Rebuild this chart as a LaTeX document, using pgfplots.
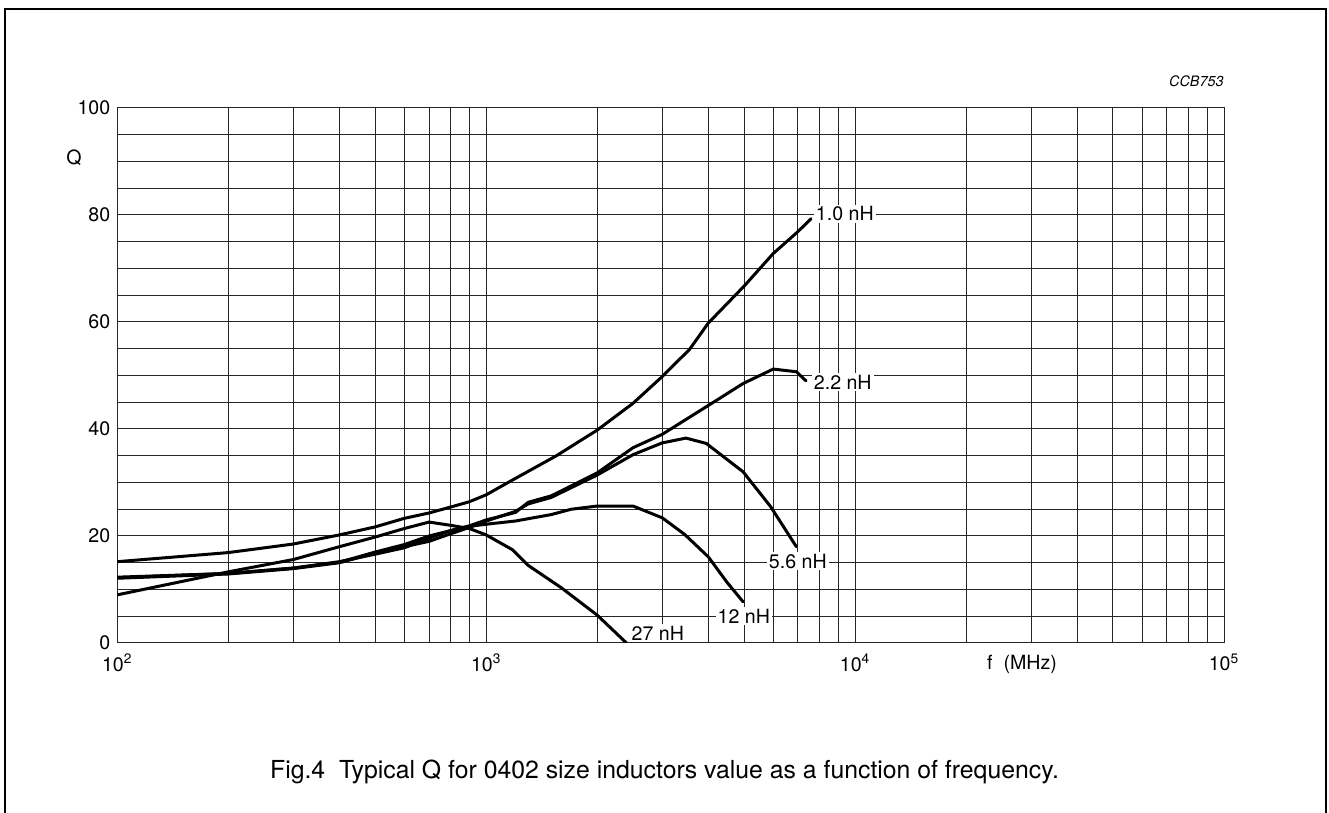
\documentclass[border=0pt]{standalone}
\usepackage{fontspec}
\setmainfont{TeX Gyre Heros}
\usepackage{pgfplots}
\pgfplotsset{compat=1.18}
\begin{document}
\begin{tikzpicture}
\useasboundingbox (0,0) rectangle (664.5pt,406.5pt);
\draw[line width=1pt] (2.5pt,-2pt) -- (2.5pt,402pt) -- (663pt,402pt) -- (663pt,-2pt);
\begin{axis}[
  at={(58.65pt,85pt)}, anchor=south west,
  scale only axis, width=553.35pt, height=267.5pt,
  xmode=log, xmin=100, xmax=100000, ymin=0, ymax=100,
  xtick={100,1000,10000,100000},
  xticklabels={10\textsuperscript{2},10\textsuperscript{3},10\textsuperscript{4},10\textsuperscript{5}},
  ytick={0,20,...,100},
  minor ytick={5,10,...,95},
  grid=both,
  major grid style={black!85, line width=0.5pt},
  minor grid style={black!85, line width=0.5pt},
  axis line style={black!85, line width=0.5pt},
  major tick length=0pt, minor tick length=0pt,
  tick label style={font=\fontsize{9.8}{11}\selectfont},
  xticklabel style={yshift=-2pt},
  /pgf/number format/assume math mode=true,
  xlabel={f\ \ (MHz)},
  xlabel style={at={(axis description cs:0.8175,-0.0393)}, anchor=center, font=\fontsize{9.8}{11}\selectfont},
  ylabel={Q},
  ylabel style={at={(axis description cs:-0.0391,0.908)}, anchor=center, rotate=-90, font=\fontsize{9.8}{11}\selectfont},
  title={CCB753},
  title style={at={(axis description cs:1,1)}, anchor=base east, yshift=4.5pt, inner sep=0pt, font=\fontsize{7.2}{8}\selectfont\itshape},
]
\pgfplotsset{curve/.style={black, line width=1.5pt, line join=round, line cap=round, no markers}}
% 1.0 nH
\addplot[curve] coordinates {(100,15.2)(200,16.9)(300,18.5)(400,20.2)(500,21.7)(600,23.3)(700,24.3)(800,25.4)(900,26.4)(1000,27.7)(1160,30.2)(1550,35.0)(2000,39.8)(2500,44.8)(3000,49.8)(3560,54.9)(4000,59.8)(5000,66.7)(6000,72.8)(7000,76.9)(7600,79.3)};
% 2.2 nH
\addplot[curve] coordinates {(100,12.2)(200,13.0)(300,14.0)(400,15.1)(500,17.0)(600,18.4)(700,20.0)(800,21.0)(900,21.9)(1000,23.0)(1200,24.4)(1300,26.3)(1500,27.5)(2000,31.8)(2500,36.5)(3000,39.0)(4220,45.4)(4970,48.5)(6000,51.2)(6930,50.7)(7360,49.0)};
% 5.6 nH
\addplot[curve] coordinates {(100,12.1)(200,12.9)(300,13.9)(400,15.0)(500,16.8)(600,18.0)(700,19.0)(800,20.4)(900,21.6)(1000,22.8)(1200,24.6)(1300,26.0)(1500,27.2)(2000,31.4)(2500,35.2)(3000,37.4)(3480,38.3)(3950,37.3)(4970,32.0)(5900,25.5)(6930,18.0)};
% 12 nH
\addplot[curve] coordinates {(100,12.3)(200,13.0)(300,14.0)(400,15.2)(500,16.6)(600,17.8)(700,19.6)(800,21.0)(900,21.8)(1000,22.2)(1200,22.8)(1500,24.0)(1700,25.0)(2000,25.6)(2500,25.6)(3000,23.4)(3450,20.3)(4000,16.1)(4500,11.3)(4970,7.7)};
% 27 nH
\addplot[curve] coordinates {(100,9.0)(200,13.3)(300,15.6)(400,18.0)(500,19.8)(600,21.4)(700,22.6)(800,22.0)(900,21.4)(1000,20.2)(1180,17.4)(1300,14.5)(1600,10.3)(2000,5.2)(2400,0)};
\begin{scope}[every node/.style={fill=white, inner sep=1pt, font=\fontsize{9.8}{11}\selectfont}]
\node at (axis cs:9380,80.2) {1.0 nH};
\node at (axis cs:9260,48.8) {2.2 nH};
\node at (axis cs:6994,15.3) {5.6 nH};
\node at (axis cs:4994,5.05) {12 nH};
\node at (axis cs:2920,1.87) {27 nH};
\end{scope}
\end{axis}
\node[anchor=base, font=\fontsize{12.4}{14}\selectfont] at (332.25pt,17pt) {Fig.4\ \ Typical Q for 0402 size inductors value as a function of frequency.};
\end{tikzpicture}
\end{document}
